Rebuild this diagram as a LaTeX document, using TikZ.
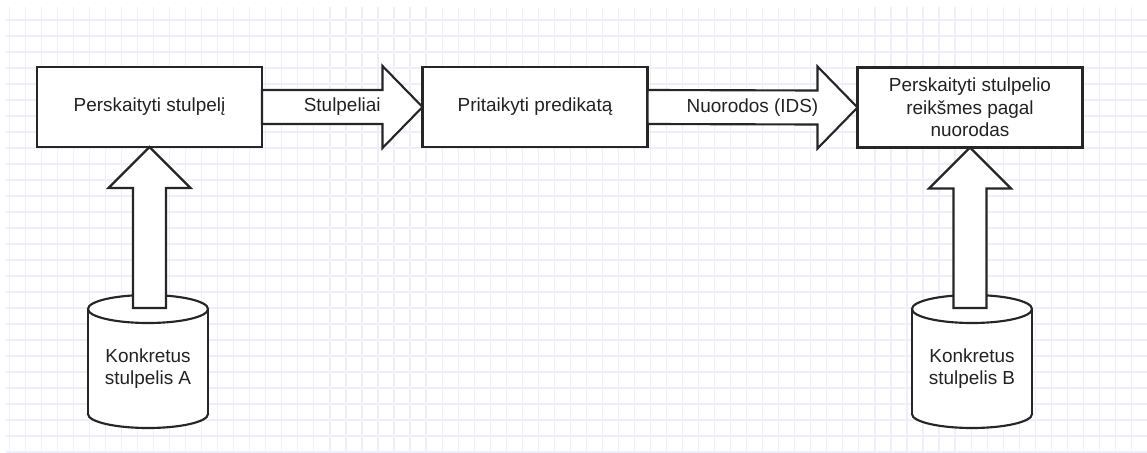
\documentclass[tikz,border=0pt]{standalone}
\usepackage{fontspec}
\setmainfont{Liberation Sans}
\usetikzlibrary{calc}
\definecolor{gridcol}{RGB}{238,238,255}
\definecolor{ink}{RGB}{38,38,38}
\definecolor{txt}{RGB}{34,34,34}
\tikzset{
  gridline/.style={draw=gridcol, line width=0.9pt},
  procbox/.style={draw=ink, fill=white, line width=1.6pt, outer sep=0pt,
    minimum width=168.75pt, minimum height=60pt, align=center,
    text=txt, font=\fontsize{14.2}{16.8}\selectfont},
  cyltext/.style={align=center, text=txt, font=\fontsize{14.2}{16.5}\selectfont,
    minimum width=90pt, inner sep=0pt},
  blockarrow/.style={draw=ink, fill=white, line width=1.6pt, line join=miter},
  cylline/.style={draw=ink, line width=1.6pt},
  arrowlabel/.style={text=txt, font=\fontsize{14.2}{16.5}\selectfont, inner sep=0pt},
}
\begin{document}
\begin{tikzpicture}[x=0.75pt, y=-0.75pt]
\useasboundingbox (0,0) rectangle (1147,453);
\fill[white] (0,0) rectangle (1147,453);

% background grid
\begin{scope}
  \clip (6,7) rectangle (1147,452);
  \foreach \i in {0,...,71}
    \draw[gridline] ({9.3+16.03*\i},7) -- ({9.3+16.03*\i},452);
  \foreach \j in {0,...,27}
    \draw[gridline] (6,{20+16*\j}) -- (1147,{20+16*\j});
\end{scope}

% process boxes
\node[procbox] (b1) at (149.5,107) {Perskaityti stulpelį};
\node[procbox] (b2) at (535,107) {Pritaikyti predikatą};
\node[procbox] (b3) at (970,107.5) {Perskaityti stulpelio\\reikšmes pagal\\nuorodas};

% data stores (cylinders)
\coordinate (cAc) at (148,369);
\coordinate (cBc) at (972,369);
\foreach \c/\t in {cAc/topA, cBc/topB} {
  \filldraw[cylline, fill=white] ($(\c)+(0,45)$) ellipse [x radius=45pt, y radius=10.5pt];
  \fill[white] ($(\c)+(-60,-60)$) rectangle ($(\c)+(60,45)$);
  \draw[cylline] ($(\c)+(-60,-60)$) -- ($(\c)+(-60,45)$);
  \draw[cylline] ($(\c)+(60,-60)$) -- ($(\c)+(60,45)$);
  \filldraw[cylline, fill=white] ($(\c)+(0,-60)$) ellipse [x radius=45pt, y radius=10.5pt];
  \coordinate (\t) at ($(\c)+(0,-61)$);
}
\node[cyltext] (cA) at (cAc) {Konkretus\\stulpelis A};
\node[cyltext] (cB) at (cBc) {Konkretus\\stulpelis B};

% horizontal block arrows
\draw[blockarrow] ($(b1.east)+(0,-17)$) -- ($(b2.west)+(-40,-17)$) -- ($(b2.west)+(-40,-41)$)
  -- (b2.west) -- ($(b2.west)+(-40,41)$) -- ($(b2.west)+(-40,17)$) -- ($(b1.east)+(0,17)$) -- cycle;
\node[arrowlabel] (l1) at ($(b1.east)!0.5!(b2.west)$) {Stulpeliai};
\draw[blockarrow] ($(b2.east)+(0,-17)$) -- ($(b3.west)+(-40,-17)$) -- ($(b3.west)+(-40,-41)$)
  -- (b3.west) -- ($(b3.west)+(-40,41)$) -- ($(b3.west)+(-40,17)$) -- ($(b2.east)+(0,17)$) -- cycle;
\node[arrowlabel] (l2) at ($(b2.east)!0.5!(b3.west)$) {Nuorodos (IDS)};

% vertical block arrows from the stores
\foreach \b/\t in {b1/topA, b3/topB} {
  \coordinate (base) at (\b.south |- \t);
  \draw[blockarrow] ($(base)+(-16.5,0)$) -- ($(\b.south)+(-16.5,41)$) -- ($(\b.south)+(-41,41)$)
    -- (\b.south) -- ($(\b.south)+(41,41)$) -- ($(\b.south)+(16.5,41)$) -- ($(base)+(16.5,0)$) -- cycle;
}
\end{tikzpicture}
\end{document}
